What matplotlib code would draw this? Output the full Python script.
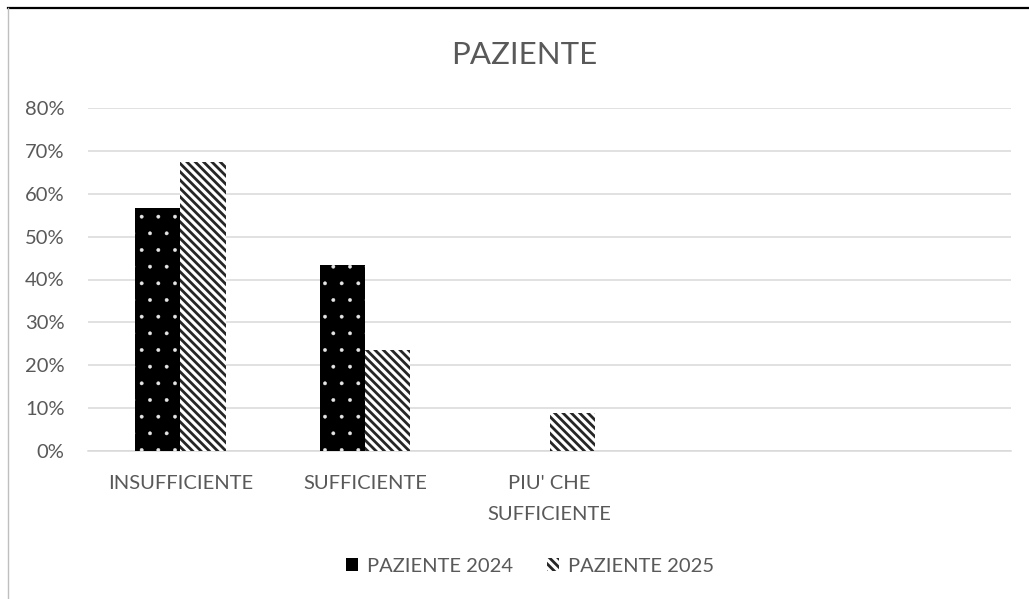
import numpy as np
import matplotlib.pyplot as plt
from matplotlib.lines import Line2D
from matplotlib.patches import Patch

plt.rcParams['font.family'] = ['Lato', 'DejaVu Sans']
plt.rcParams['hatch.linewidth'] = 0.5

categories = ["INSUFFICIENTE", "SUFFICIENTE", "PIU' CHE\nSUFFICIENTE", "", ""]
paziente_2024 = [0.566, 0.434, 0.0, 0.0, 0.0]
paziente_2025 = [0.675, 0.235, 0.088, 0.0, 0.0]
series_names = ["PAZIENTE 2024", "PAZIENTE 2025"]

txt = '#595959'
grid = '#d9d9d9'
stripe = '\\\\\\\\'

fig = plt.figure(figsize=(10.29, 5.99), dpi=100)
ax = fig.add_axes([88/1029, 1-451/599, 923/1029, 343/599])

x = np.arange(len(categories))
w = 0.245

b1 = ax.bar(x - w/2, paziente_2024, w, facecolor='black', edgecolor='#e6e6e6',
            linewidth=0, hatch='.', zorder=3)
for b in b1:
    if hasattr(b, 'set_hatch_linewidth'):
        b.set_hatch_linewidth(0.3)

plt.rcParams['hatch.linewidth'] = 2.0
b2 = ax.bar(x + w/2, paziente_2025, w, facecolor='white', edgecolor='#262626',
            linewidth=0, hatch=stripe, zorder=3)
for b in b2:
    if hasattr(b, 'set_hatch_linewidth'):
        b.set_hatch_linewidth(2.0)

ax.set_xlim(-0.5, len(categories) - 0.5)
ax.set_ylim(0, 0.8)
ax.set_yticks(np.arange(0, 0.81, 0.1))
ax.set_yticklabels([f"{int(round(v*100))}%" for v in np.arange(0, 0.81, 0.1)])
ax.set_xticks(x)
ax.set_xticklabels(categories)
for t in ax.get_xticklabels():
    t.set_linespacing(2.0)

ax.grid(axis='y', color=grid, linewidth=1.1, zorder=0)
ax.set_axisbelow(True)
for s in ['top', 'right', 'left']:
    ax.spines[s].set_visible(False)
ax.spines['bottom'].set_color(grid)
ax.spines['bottom'].set_linewidth(1.1)
ax.tick_params(axis='both', length=0, labelsize=14.5, colors=txt)
ax.tick_params(axis='y', pad=17)
ax.tick_params(axis='x', pad=17)

fig.text(0.509, 0.908, "PAZIENTE", ha='center', va='center', fontsize=22.5, color=txt)

handles = [Patch(facecolor='black', edgecolor='black', linewidth=0),
           Patch(facecolor='white', edgecolor='#262626', hatch=stripe, linewidth=0)]
leg = fig.legend(handles, series_names, loc='center', bbox_to_anchor=(0.515, 0.055),
                 ncols=2, frameon=False, fontsize=14.5, labelcolor=txt,
                 handlelength=0.6, handleheight=0.6, handletextpad=0.45,
                 columnspacing=1.7)

# chart frame edges
fig.add_artist(Line2D([8/1029, 1], [1-8/599, 1-8/599], color='black', linewidth=1.6))
fig.add_artist(Line2D([8/1029, 8/1029], [0, 1-8/599], color='#bfbfbf', linewidth=1.0))

fig.savefig('out.png', dpi=100)
